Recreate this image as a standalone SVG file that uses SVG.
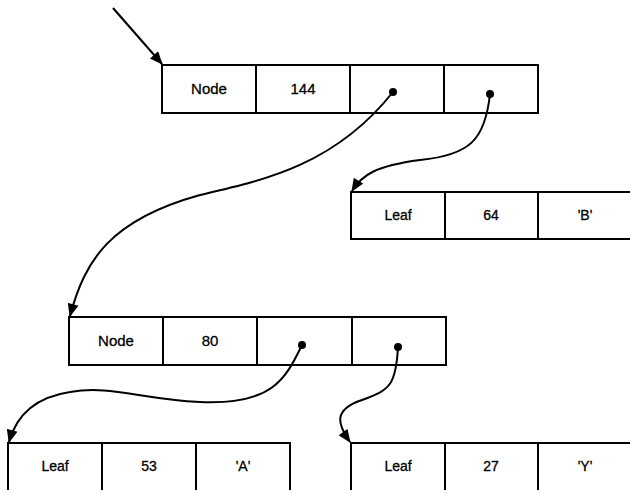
<svg xmlns="http://www.w3.org/2000/svg" width="630" height="490" viewBox="0 0 630 490">
  <style>
    .cell { fill: #ffffff; stroke: #000000; stroke-width: 2; }
    .lbl { font-family: "Liberation Sans", "DejaVu Sans", sans-serif; font-size: 15px; fill: #000000; stroke: #000000; stroke-width: 0.3; text-anchor: middle; dominant-baseline: central; }
    .leaf { font-size: 14px; }
    .conn { fill: none; stroke: #000000; stroke-width: 2; marker-end: url(#ah); }
    .dot { fill: #000000; }
  </style>
  <defs>
    <marker id="ah" viewBox="0 0 12 10" refX="11" refY="5" markerWidth="14" markerHeight="11" orient="auto" markerUnits="userSpaceOnUse">
      <path d="M0,0 L12,5 L0,10 z" fill="#000000"/>
    </marker>
  </defs>

  <g id="node144">
    <rect class="cell" x="162" y="65" width="94" height="48"/>
    <rect class="cell" x="256" y="65" width="94" height="48"/>
    <rect class="cell" x="350" y="65" width="94" height="48"/>
    <rect class="cell" x="444" y="65" width="94" height="48"/>
    <text class="lbl" x="209" y="88">Node</text>
    <text class="lbl" x="303" y="88">144</text>
    <circle class="dot" cx="393" cy="92" r="4"/>
    <circle class="dot" cx="490" cy="94" r="4"/>
  </g>

  <g id="leafB">
    <rect class="cell" x="351" y="192" width="94" height="47"/>
    <rect class="cell" x="445" y="192" width="93" height="47"/>
    <rect class="cell" x="538" y="192" width="95" height="47"/>
    <text class="lbl leaf" x="398" y="215">Leaf</text>
    <text class="lbl leaf" x="491" y="215">64</text>
    <text class="lbl leaf" x="585" y="215">'B'</text>
  </g>

  <g id="node80">
    <rect class="cell" x="69" y="317" width="94" height="48"/>
    <rect class="cell" x="163" y="317" width="94" height="48"/>
    <rect class="cell" x="257" y="317" width="95" height="48"/>
    <rect class="cell" x="352" y="317" width="94" height="48"/>
    <text class="lbl" x="116" y="340">Node</text>
    <text class="lbl" x="210" y="340">80</text>
    <circle class="dot" cx="302" cy="345" r="4"/>
    <circle class="dot" cx="398" cy="347" r="4"/>
  </g>

  <g id="leafA">
    <rect class="cell" x="8" y="443" width="94" height="50"/>
    <rect class="cell" x="102" y="443" width="94" height="50"/>
    <rect class="cell" x="196" y="443" width="94" height="50"/>
    <text class="lbl leaf" x="55" y="466">Leaf</text>
    <text class="lbl leaf" x="149" y="466">53</text>
    <text class="lbl leaf" x="243" y="466">'A'</text>
  </g>

  <g id="leafY">
    <rect class="cell" x="351" y="443" width="94" height="50"/>
    <rect class="cell" x="445" y="443" width="93" height="50"/>
    <rect class="cell" x="538" y="443" width="95" height="50"/>
    <text class="lbl leaf" x="398" y="466">Leaf</text>
    <text class="lbl leaf" x="491" y="466">27</text>
    <text class="lbl leaf" x="585" y="466">'Y'</text>
  </g>

  <g id="connectors">
    <path class="conn" d="M113,8 L162,64"/>
    <path class="conn" d="M393,92 C335,165 265,180 200,195 C110,220 85,260 70,316"/>
    <path class="conn" d="M490,94 C485,140 470,155 420,160 C375,166 362,175 352,191"/>
    <path class="conn" d="M302,345 C285,380 272,405 200,402 C140,399 110,385 70,392 C30,398 15,420 9,442"/>
    <path class="conn" d="M398,347 C396,385 390,390 362,400 C332,410 338,425 350,442"/>
  </g>
</svg>
